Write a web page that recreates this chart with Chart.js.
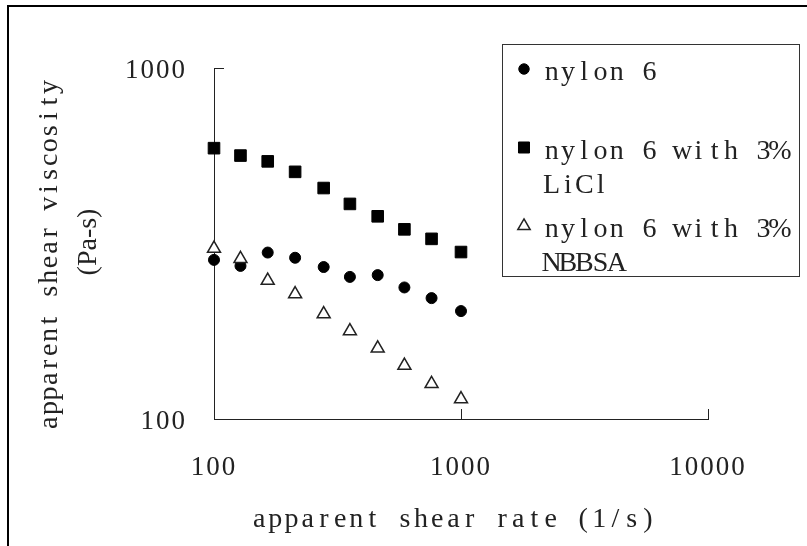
<!DOCTYPE html>
<html>
<head>
<meta charset="utf-8">
<script src="https://cdn.jsdelivr.net/npm/chart.js@4.4.0/dist/chart.umd.min.js"></script>
<style>
  html, body { margin: 0; padding: 0; background: #fff; }
  #chart { display: block; }
</style>
</head>
<body>
<canvas id="chart" width="807" height="546"></canvas>
<script>
// apparent shear rate (1/s)
const shearRate = [100, 128, 165, 213, 278, 355, 460, 590, 760, 1000]
// apparent shear viscosity (Pa-s)
const nylon6 = [284, 273, 298, 288, 271, 254, 257, 237, 221, 203]
const nylon6LiCl = [591, 563, 542, 506, 455, 410, 378, 347, 326, 299]
const nylon6NBBSA = [306, 286, 248, 227, 199, 178, 159, 142, 126, 114]

const xTicks = [100, 1000, 10000]
const yTicks = [100, 1000]
const seriesNames = [['nylon 6'], ['nylon 6 with 3%', 'LiCl'], ['nylon 6 with 3%', 'NBBSA']]
const xTitle = 'apparent shear rate (1/s)'
const yTitle = ['apparent shear viscosity', '(Pa-s)']

const FONT = 'Liberation Serif'
const TEXT_SIZE = 28
const TICK_SIZE = 27
const INK = '#222'

function points(ys) {
  return shearRate.map((x, i) => ({ x: x, y: ys[i] }))
}

// each character centred in a fixed-width cell, like a half-width CJK face
function drawCells(ctx, text, x, y, cell) {
  ctx.textAlign = 'center'
  Array.from(text).forEach((ch, i) => ctx.fillText(ch, x + cell * (i + 0.5), y))
}

const framePlugin = {
  id: 'frame',
  beforeUpdate(chart) { chart.ctx.letterSpacing = '2px' },
  beforeDraw(chart) { chart.ctx.letterSpacing = '2px' },
  afterDraw(chart) {
    const ctx = chart.ctx
    ctx.save()
    ctx.letterSpacing = '0px'

    // outer frame
    ctx.strokeStyle = '#000'
    ctx.lineWidth = 2
    ctx.strokeRect(8, 6, 820, 560)

    ctx.fillStyle = INK
    ctx.font = TEXT_SIZE + 'px "' + FONT + '"'
    ctx.textBaseline = 'alphabetic'
    drawCells(ctx, xTitle, 251, 527, 16.2)

    // y title, two rotated lines
    ctx.save()
    ctx.translate(50, 430)
    ctx.rotate(-Math.PI / 2)
    ctx.textBaseline = 'middle'
    drawCells(ctx, yTitle[0], 0, 0, 14.6)
    ctx.restore()

    ctx.save()
    ctx.translate(89, 242)
    ctx.rotate(-Math.PI / 2)
    ctx.textBaseline = 'middle'
    ctx.textAlign = 'center'
    ctx.fillText(yTitle[1], 0, 0)
    ctx.restore()

    // legend box
    ctx.strokeStyle = '#333'
    ctx.lineWidth = 1
    ctx.strokeRect(502.5, 44.5, 297, 232)

    chart.data.datasets.forEach((ds, i) => {
      const y = 69 + i * 78.5
      ctx.fillStyle = ds.backgroundColor
      ctx.strokeStyle = ds.borderColor
      ctx.lineWidth = ds.borderWidth
      Chart.helpers.drawPoint(ctx, {
        pointStyle: ds.pointStyle,
        radius: ds.pointRadius * 0.95,
        rotation: 0,
        borderWidth: ds.borderWidth
      }, 524, y)
      ctx.fillStyle = INK
      ctx.textBaseline = 'alphabetic'
      seriesNames[i].forEach((line, j) => drawCells(ctx, line, 543.5, y + 11 + j * 34, 16.3))
    })
    ctx.restore()
  }
}

new Chart(document.getElementById('chart'), {
  type: 'scatter',
  data: {
    datasets: [
      {
        label: seriesNames[0].join(' '),
        data: points(nylon6),
        pointStyle: 'circle',
        pointRadius: 5.5,
        backgroundColor: '#000',
        borderColor: '#000',
        borderWidth: 1,
        clip: false,
        order: 1
      },
      {
        label: seriesNames[1].join(' '),
        data: points(nylon6LiCl),
        pointStyle: 'rect',
        pointRadius: 8.2,
        backgroundColor: '#000',
        borderColor: '#000',
        borderWidth: 1,
        clip: false,
        order: 2
      },
      {
        label: seriesNames[2].join(' '),
        data: points(nylon6NBBSA),
        pointStyle: 'triangle',
        pointRadius: 7.5,
        backgroundColor: '#fff',
        borderColor: '#222',
        borderWidth: 1.5,
        clip: false,
        order: 0
      }
    ]
  },
  options: {
    responsive: false,
    animation: false,
    devicePixelRatio: 1,
    layout: { padding: { top: 68, right: 99, left: 0, bottom: 0 } },
    plugins: {
      legend: { display: false },
      tooltip: { enabled: false }
    },
    scales: {
      x: {
        type: 'logarithmic',
        min: 100,
        max: 10000,
        afterBuildTicks: s => { s.ticks = xTicks.map(v => ({ value: v })) },
        afterFit: s => { s.height = 127 },
        grid: { drawOnChartArea: false, tickLength: -10, color: INK, lineWidth: 1 },
        border: { color: INK, width: 1 },
        ticks: {
          color: INK,
          font: { family: FONT, size: TICK_SIZE },
          padding: 43,
          maxRotation: 0,
          autoSkip: false,
          callback: v => String(v)
        }
      },
      y: {
        type: 'logarithmic',
        min: 100,
        max: 1000,
        afterBuildTicks: s => { s.ticks = yTicks.map(v => ({ value: v })) },
        afterFit: s => { s.width = 214 },
        grid: { drawOnChartArea: false, tickLength: -10, color: INK, lineWidth: 1 },
        border: { color: INK, width: 1 },
        ticks: {
          color: INK,
          font: { family: FONT, size: TICK_SIZE },
          padding: 37,
          labelOffset: 3,
          autoSkip: false,
          callback: v => String(v)
        }
      }
    }
  },
  plugins: [framePlugin]
})
</script>
</body>
</html>
